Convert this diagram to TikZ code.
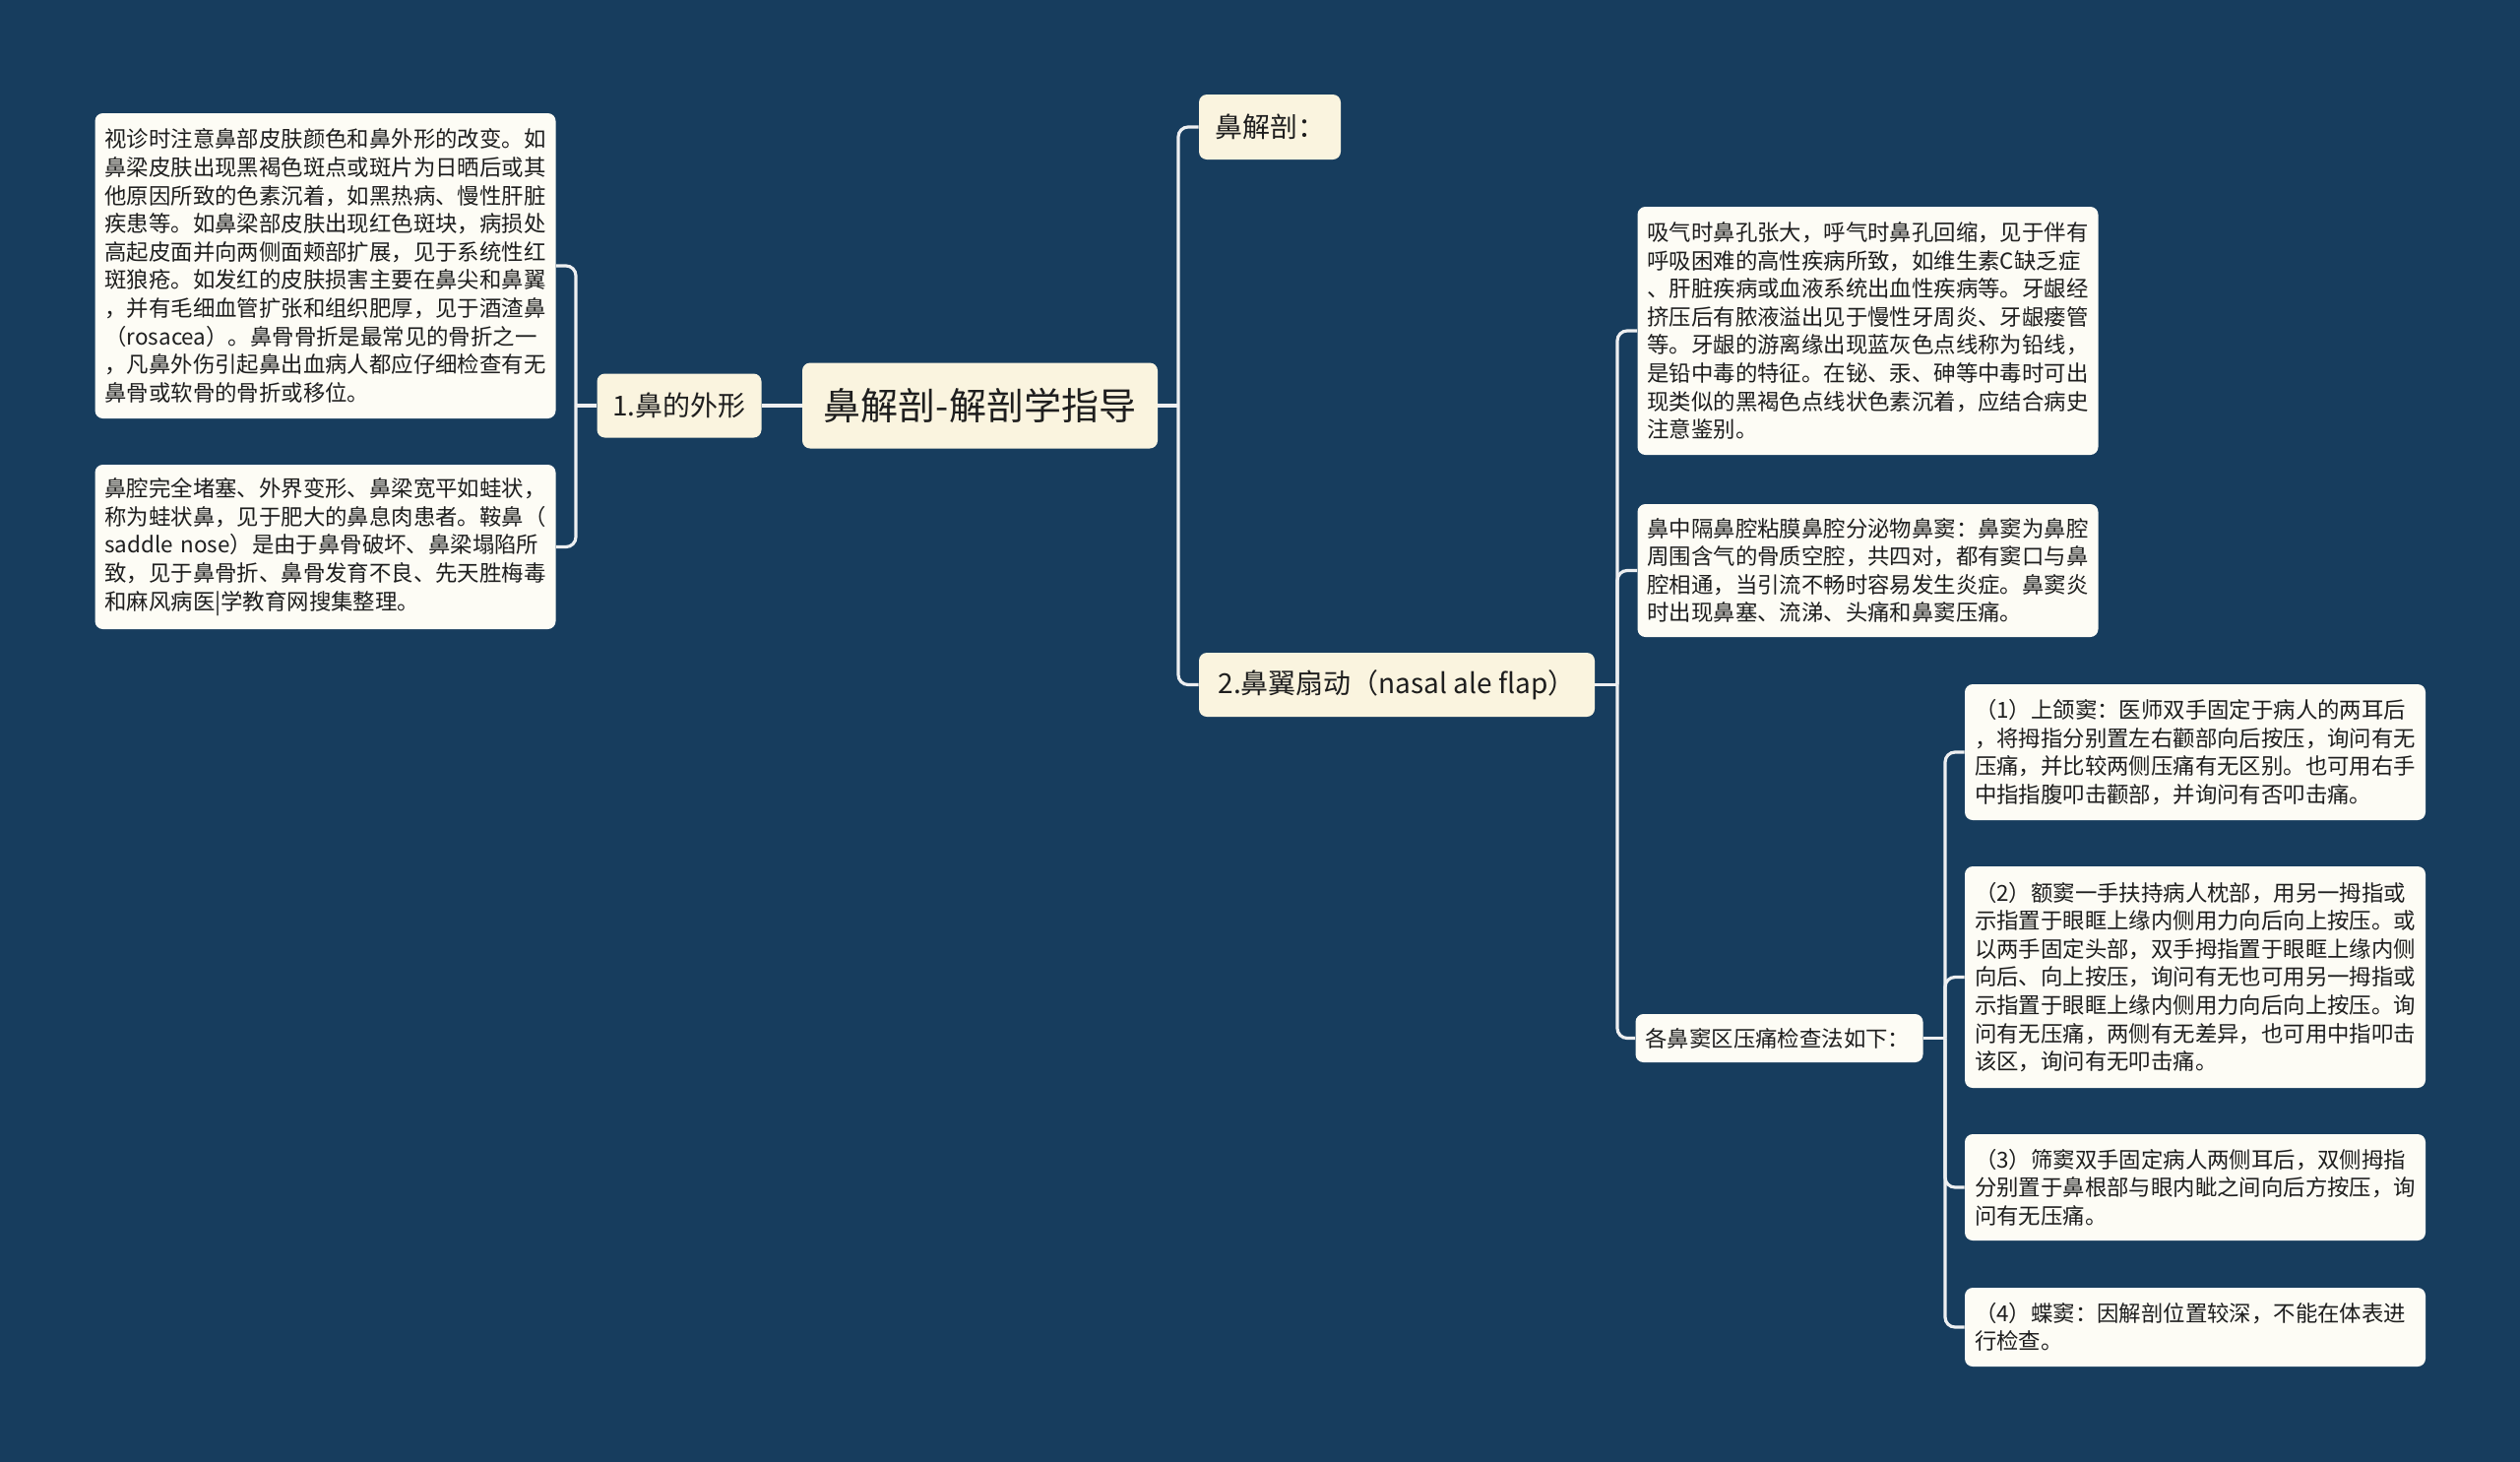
\documentclass[tikz,border=0pt]{standalone}
\usepackage{fontspec}
\setmainfont{Noto Sans CJK SC}
\definecolor{bgnavy}{HTML}{173D5E}
\definecolor{capfill}{HTML}{FAF4DF}
\definecolor{notefill}{HTML}{FDFCF5}
\definecolor{inkgray}{HTML}{1E1E1E}
\definecolor{linkwhite}{HTML}{EDEFF1}
\tikzset{
  topic/.style={rounded corners=4pt, fill=capfill, text=inkgray, inner sep=0pt, align=center},
  rootnode/.style={topic, font=\fontsize{19}{23}\selectfont},
  branch/.style={topic, font=\fontsize{14}{17}\selectfont},
  note/.style={rounded corners=4pt, fill=notefill, text=inkgray, inner xsep=5pt, inner ysep=0pt,
    text width=224pt, align=left, font=\fontsize{11.2}{14.3}\selectfont},
  link/.style={draw=linkwhite, line width=1.6pt, rounded corners=5pt},
}
\begin{document}
\begin{tikzpicture}[x=0.5pt, y=-0.5pt]
  \useasboundingbox (0,0) rectangle (2560,1484);
  \fill[bgnavy] (-10,-10) rectangle (2570,1494);
  % centre
  \node[rootnode, minimum width=180.5pt, minimum height=43.5pt] (root) at (995.5,412) {鼻解剖-解剖学指导};
  % left side
  \node[branch, minimum width=83.5pt, minimum height=32.5pt] (shape) at (690,412) {1.鼻的外形};
  \node[note, minimum height=155pt] (look) at (330.5,270) {视诊时注意鼻部皮肤颜色和鼻外形的改变。如\\
    鼻梁皮肤出现黑褐色斑点或斑片为日晒后或其\\
    他原因所致的色素沉着，如黑热病、慢性肝脏\\
    疾患等。如鼻梁部皮肤出现红色斑块，病损处\\
    高起皮面并向两侧面颊部扩展，见于系统性红\\
    斑狼疮。如发红的皮肤损害主要在鼻尖和鼻翼\\
    ，并有毛细血管扩张和组织肥厚，见于酒渣鼻\\
    （rosacea）。鼻骨骨折是最常见的骨折之一\\
    ，凡鼻外伤引起鼻出血病人都应仔细检查有无\\
    鼻骨或软骨的骨折或移位。};
  \node[note, minimum height=83.5pt] (frog) at (330.5,555.5) {鼻腔完全堵塞、外界变形、鼻梁宽平如蛙状，\\
    称为蛙状鼻，见于肥大的鼻息肉患者。鞍鼻（\\
    saddle nose）是由于鼻骨破坏、鼻梁塌陷所\\
    致，见于鼻骨折、鼻骨发育不良、先天胜梅毒\\
    和麻风病医|学教育网搜集整理。};
  % right side
  \node[branch, minimum width=72pt, minimum height=33pt] (anat) at (1290,129) {鼻解剖：};
  \node[branch, minimum width=201pt, minimum height=32.5pt] (flap) at (1419,695.5) {2.鼻翼扇动（nasal ale flap）};
  \node[note, minimum height=126pt] (gums) at (1897.5,336) {吸气时鼻孔张大，呼气时鼻孔回缩，见于伴有\\
    呼吸困难的高性疾病所致，如维生素C缺乏症\\
    、肝脏疾病或血液系统出血性疾病等。牙龈经\\
    挤压后有脓液溢出见于慢性牙周炎、牙龈瘘管\\
    等。牙龈的游离缘出现蓝灰色点线称为铅线，\\
    是铅中毒的特征。在铋、汞、砷等中毒时可出\\
    现类似的黑褐色点线状色素沉着，应结合病史\\
    注意鉴别。};
  \node[note, minimum height=67.5pt] (sinus) at (1897.5,579.5) {鼻中隔鼻腔粘膜鼻腔分泌物鼻窦：鼻窦为鼻腔\\
    周围含气的骨质空腔，共四对，都有窦口与鼻\\
    腔相通，当引流不畅时容易发生炎症。鼻窦炎\\
    时出现鼻塞、流涕、头痛和鼻窦压痛。};
  \node[note, text width=136pt, minimum height=24.5pt] (check) at (1807.5,1054.5) {各鼻窦区压痛检查法如下：};
  \node[note, minimum height=69pt] (maxi) at (2230,764) {（1）上颌窦：医师双手固定于病人的两耳后\\
    ，将拇指分别置左右颧部向后按压，询问有无\\
    压痛，并比较两侧压痛有无区别。也可用右手\\
    中指指腹叩击颧部，并询问有否叩击痛。};
  \node[note, minimum height=112.5pt] (front) at (2230,992.5) {（2）额窦一手扶持病人枕部，用另一拇指或\\
    示指置于眼眶上缘内侧用力向后向上按压。或\\
    以两手固定头部，双手拇指置于眼眶上缘内侧\\
    向后、向上按压，询问有无也可用另一拇指或\\
    示指置于眼眶上缘内侧用力向后向上按压。询\\
    问有无压痛，两侧有无差异，也可用中指叩击\\
    该区，询问有无叩击痛。};
  \node[note, minimum height=54pt] (ethm) at (2230,1206) {（3）筛窦双手固定病人两侧耳后，双侧拇指\\
    分别置于鼻根部与眼内眦之间向后方按压，询\\
    问有无压痛。};
  \node[note, minimum height=40pt] (sphe) at (2230,1348) {（4）蝶窦：因解剖位置较深，不能在体表进\\
    行检查。};
  % trunks
  \coordinate (rt) at (1197,412);
  \coordinate (lt) at (585,412);
  \coordinate (ft) at (1643,695.5);
  \coordinate (ct) at (1976,1054.5);
  \begin{scope}[link]
    \draw (root.west) -- (shape.east);
    \draw (shape.west) -- (lt);
    \foreach \c in {look,frog} \draw (lt) |- (\c.east);
    \draw (root.east) -- (rt);
    \foreach \c in {anat,flap} \draw (rt) |- (\c.west);
    \draw (flap.east) -- (ft);
    \foreach \c in {gums,sinus,check} \draw (ft) |- (\c.west);
    \draw (check.east) -- (ct);
    \foreach \c in {maxi,front,ethm,sphe} \draw (ct) |- (\c.west);
  \end{scope}
\end{tikzpicture}
\end{document}
